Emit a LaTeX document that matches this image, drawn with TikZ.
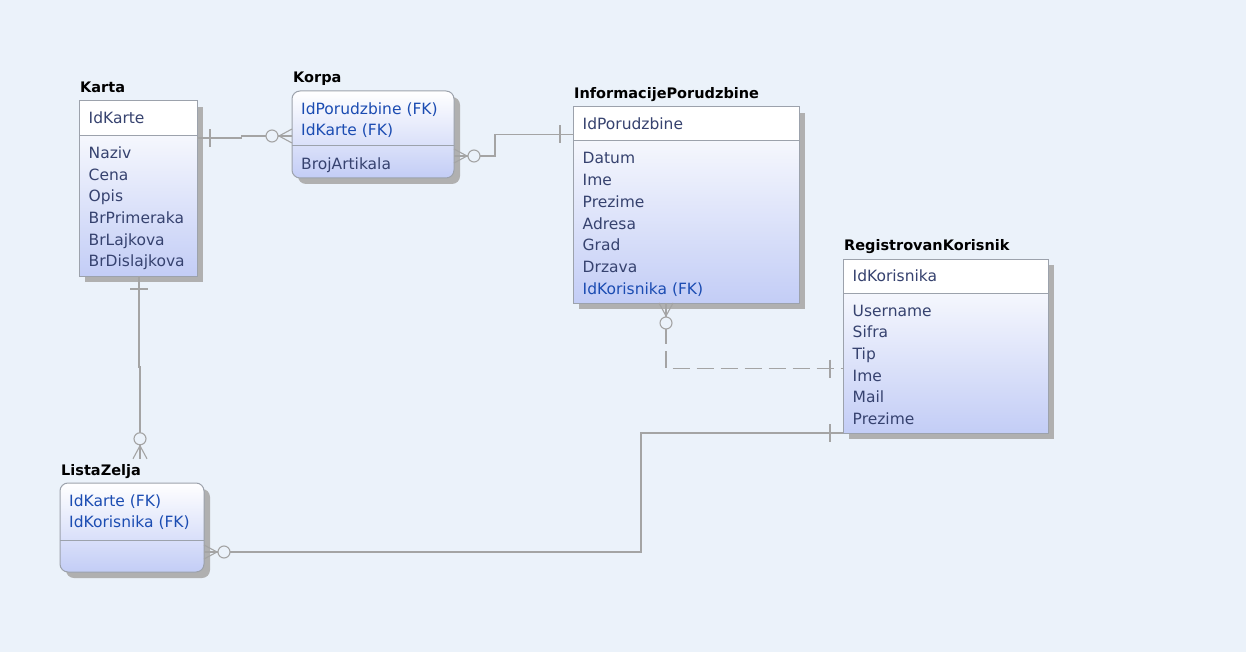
\documentclass[tikz,border=0pt]{standalone}
\usepackage{fontspec}
\setmainfont{DejaVu Sans}
\usetikzlibrary{positioning, shadows, calc}
\definecolor{pozadina}{HTML}{EBF2FA}
\definecolor{linija}{HTML}{A4A4A4}
\definecolor{okvir}{HTML}{9CA2AC}
\definecolor{plava}{HTML}{C3CDF6}
\definecolor{svetla}{HTML}{F5F7FD}
\definecolor{atrboja}{HTML}{36426F}
\definecolor{fkboja}{HTML}{1B4CB2}
\definecolor{senka}{HTML}{B0B0B0}
\newcommand{\vranaNoga}[2]{
\begin{scope}[shift={(#1)}, rotate=#2]
    \draw[veza] (0,7) -- (13,0) -- (0,-7) (0,0) -- (13,0);
    \draw[veza, fill=pozadina] (20,0) circle (6);
\end{scope}
}
\newcommand{\crtica}[2]{
\begin{scope}[shift={(#1)}, rotate=#2]
    \draw[veza] (13,9) -- (13,-9);
\end{scope}
}

\begin{document}
\begin{tikzpicture}[x=1pt, y=-1pt,
    veza/.style={draw=linija, line width=1.1pt},
    isprekidana/.style={veza, dash pattern=on 17pt off 7pt},
    kutija/.style={draw=okvir, line width=1pt, inner sep=0pt, outer sep=0pt, anchor=north west,
        drop shadow={shadow xshift=6pt, shadow yshift=-6pt, fill=senka, opacity=1}},
    kljucKutija/.style={kutija, fill=white},
    teloKutija/.style={kutija, top color=svetla, bottom color=plava},
    zavisna/.style={kutija, rounded corners=8pt, top color=white, bottom color=plava},
    naslov/.style={inner sep=0pt, anchor=base west, font=\fontsize{14.5}{17}\selectfont\bfseries},
    atribut/.style={inner sep=0pt, anchor=base west, text=atrboja, font=\fontsize{15.5}{18}\selectfont},
    fk/.style={atribut, text=fkboja}]
    % Pozadina
    \fill[pozadina] (0,0) rectangle (1246,652);
    \useasboundingbox (0,0) rectangle (1246,652);
    % Karta
    \node[kljucKutija, minimum width=118pt, minimum height=35pt] (kartaK) at (79,101) {};
    \node[teloKutija, minimum width=118pt, minimum height=140pt, below=0pt of kartaK] (kartaT) {};
    \node[naslov] (kartaNaslov) at ([xshift=1pt, yshift=8pt]kartaK.north west) {Karta};
    \node[atribut] (kartaId) at ([xshift=9.5pt, yshift=-23pt]kartaK.north west) {IdKarte};
    \foreach \a [count=\i] in {Naziv, Cena, Opis, BrPrimeraka, BrLajkova, BrDislajkova}
        \node[atribut] (karta\i) at ([xshift=9.5pt, yshift={-22.5pt-21.67pt*(\i-1)}]kartaT.north west) {\a};
    % Korpa
    \node[zavisna, minimum width=162pt, minimum height=87pt] (korpa) at (292,91) {};
    \draw[draw=okvir, line width=1pt] ([yshift=-55pt]korpa.north west) -- ([yshift=-55pt]korpa.north east);
    \node[naslov] (korpaNaslov) at ([xshift=1pt, yshift=8pt]korpa.north west) {Korpa};
    \foreach \a [count=\i] in {IdPorudzbine (FK), IdKarte (FK)}
        \node[fk] (korpaFk\i) at ([xshift=9pt, yshift={-23.5pt-21.5pt*(\i-1)}]korpa.north west) {\a};
    \node[atribut] (korpaBroj) at ([xshift=9pt, yshift=-79pt]korpa.north west) {BrojArtikala};
    % InformacijePorudzbine
    \node[kljucKutija, minimum width=226pt, minimum height=34pt] (infoK) at (573,107) {};
    \node[teloKutija, minimum width=226pt, minimum height=162pt, below=0pt of infoK] (infoT) {};
    \node[naslov] (infoNaslov) at ([xshift=1pt, yshift=8pt]infoK.north west) {InformacijePorudzbine};
    \node[atribut] (infoId) at ([xshift=9.5pt, yshift=-22.5pt]infoK.north west) {IdPorudzbine};
    \foreach \a [count=\i] in {Datum, Ime, Prezime, Adresa, Grad, Drzava}
        \node[atribut] (info\i) at ([xshift=9.5pt, yshift={-23pt-21.67pt*(\i-1)}]infoT.north west) {\a};
    \node[fk] (infoFk) at ([xshift=9.5pt, yshift=-153pt]infoT.north west) {IdKorisnika (FK)};
    % RegistrovanKorisnik
    \node[kljucKutija, minimum width=205pt, minimum height=34pt] (regK) at (843,259) {};
    \node[teloKutija, minimum width=205pt, minimum height=140pt, below=0pt of regK] (regT) {};
    \node[naslov] (regNaslov) at ([xshift=1pt, yshift=8pt]regK.north west) {RegistrovanKorisnik};
    \node[atribut] (regId) at ([xshift=9.5pt, yshift=-22pt]regK.north west) {IdKorisnika};
    \foreach \a [count=\i] in {Username, Sifra, Tip, Ime, Mail, Prezime}
        \node[atribut] (reg\i) at ([xshift=9.5pt, yshift={-23pt-21.67pt*(\i-1)}]regT.north west) {\a};
    % ListaZelja
    \node[zavisna, minimum width=144pt, minimum height=89pt] (lista) at (60,483) {};
    \draw[draw=okvir, line width=1pt] ([yshift=-57pt]lista.north west) -- ([yshift=-57pt]lista.north east);
    \node[naslov] (listaNaslov) at ([xshift=1pt, yshift=8pt]lista.north west) {ListaZelja};
    \foreach \a [count=\i] in {IdKarte (FK), IdKorisnika (FK)}
        \node[fk] (listaFk\i) at ([xshift=9pt, yshift={-23.5pt-21pt*(\i-1)}]lista.north west) {\a};
    % Krajevi veza
    \coordinate (kartaDesno) at ([yshift=-37pt]kartaK.north east);
    \coordinate (korpaLevo) at ([yshift=-45pt]korpa.north west);
    \coordinate (korpaDesno) at ([yshift=-65pt]korpa.north east);
    \coordinate (infoLevo) at ([yshift=-27.5pt]infoK.north west);
    \coordinate (infoDole) at ([xshift=93pt]infoT.south west);
    \coordinate (regLevo) at ([yshift=-109.5pt]regK.north west);
    \coordinate (regDoleLevo) at (regT.south west);
    \coordinate (kartaDole) at ([xshift=1pt]kartaT.south);
    \coordinate (listaGore) at ($(kartaDole |- listaNaslov.north)+(1,-5)$);
    \coordinate (listaDesno) at ([yshift=-69pt]lista.north east);
    % Veze
    \draw[veza] (kartaDesno) -- ++(44.7,0) |- (korpaLevo);
    \draw[veza] (korpaDesno) -- ++(41,0) |- (infoLevo);
    \draw[isprekidana] (infoDole) |- (regLevo);
    \draw[veza] (kartaDole) -- ++(0,91) -| (listaGore);
    \draw[veza] (listaDesno) -- ++(437,0) |- (regDoleLevo);
    % Kardinalnosti
    \vranaNoga{korpaLevo}{180}
    \vranaNoga{korpaDesno}{0}
    \vranaNoga{infoDole}{-90}
    \vranaNoga{listaGore}{90}
    \vranaNoga{listaDesno}{0}
    \crtica{kartaDesno}{0}
    \crtica{infoLevo}{180}
    \crtica{regLevo}{180}
    \crtica{regDoleLevo}{180}
    \crtica{kartaDole}{-90}
\end{tikzpicture}
\end{document}
